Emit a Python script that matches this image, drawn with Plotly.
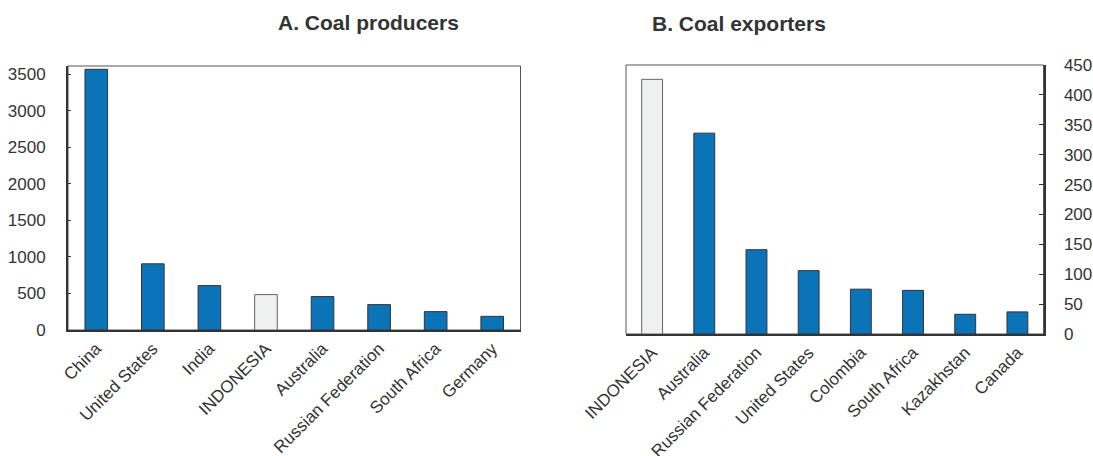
import plotly.graph_objects as go

producers = ["China", "United States", "India", "INDONESIA", "Australia",
             "Russian Federation", "South Africa", "Germany"]
production = [3565, 905, 607, 484, 457, 347, 251, 187]

exporters = ["INDONESIA", "Australia", "Russian Federation", "United States",
             "Colombia", "South Africa", "Kazakhstan", "Canada"]
exports = [426, 336, 141, 106, 75, 73, 33, 37]

BLUE = "#0b74b9"
HIGHLIGHT = "#eff0f0"
TXT = "#333333"
FONT = "Liberation Sans, Arial, sans-serif"

def colors(cats):
    return [HIGHLIGHT if c == "INDONESIA" else BLUE for c in cats]

def lines(cats):
    return ["#666666" if c == "INDONESIA" else "#333333" for c in cats]

fig = go.Figure()
fig.add_trace(go.Bar(x=producers, y=production, width=0.4,
                     marker=dict(color=colors(producers),
                                 line=dict(color=lines(producers), width=1)),
                     xaxis="x", yaxis="y", showlegend=False, hoverinfo="x+y"))
fig.add_trace(go.Bar(x=exporters, y=exports, width=0.4,
                     marker=dict(color=colors(exporters),
                                 line=dict(color=lines(exporters), width=1)),
                     xaxis="x2", yaxis="y2", showlegend=False, hoverinfo="x+y"))

W, H = 1093, 456
axfont = dict(family=FONT, size=17, color=TXT)

fig.update_layout(
    width=W, height=H, margin=dict(l=0, r=0, t=0, b=0, autoexpand=False),
    plot_bgcolor="white", paper_bgcolor="white",
    font=dict(family=FONT, size=17, color=TXT),
    bargap=0.6,
    xaxis=dict(domain=[68 / W, 520.5 / W], anchor="y", tickangle=-45,
               showline=True, linecolor=TXT, linewidth=2, ticks="",
               tickfont=axfont, showgrid=False, automargin=False),
    yaxis=dict(domain=[1 - 330 / H, 1 - 66 / H], anchor="x", range=[0, 3610],
               tickvals=[0, 500, 1000, 1500, 2000, 2500, 3000, 3500],
               showline=True, linecolor=TXT, linewidth=2,
               ticks="inside", ticklen=3, tickcolor=TXT,
               ticklabelstandoff=17, tickfont=axfont, showgrid=False,
               zeroline=False, automargin=False),
    xaxis2=dict(domain=[626 / W, 1043.5 / W], anchor="y2", tickangle=-45,
                showline=True, linecolor=TXT, linewidth=2, ticks="",
                tickfont=axfont, showgrid=False, automargin=False),
    yaxis2=dict(domain=[1 - 334 / H, 1 - 65 / H], anchor="x2", side="right",
                range=[0, 450], dtick=50,
                showline=True, linecolor=TXT, linewidth=2,
                ticks="inside", ticklen=5, tickcolor=TXT,
                ticklabelstandoff=15, tickfont=axfont, showgrid=False,
                zeroline=False, automargin=False),
    shapes=[
        dict(type="rect", xref="x domain", yref="y domain", x0=0, x1=1, y0=0, y1=1,
             line=dict(color="#555555", width=1), layer="below"),
        dict(type="rect", xref="x2 domain", yref="y2 domain", x0=0, x1=1, y0=0, y1=1,
             line=dict(color="#555555", width=1), layer="below"),
    ],
    annotations=[
        dict(text="<b>A. Coal producers</b>", xref="paper", yref="paper",
             x=276 / W, y=1 - 22 / H, yanchor="middle", showarrow=False,
             font=dict(family=FONT, size=21, color=TXT)),
        dict(text="<b>B. Coal exporters</b>", xref="paper", yref="paper",
             x=828 / W, y=1 - 24 / H, yanchor="middle", showarrow=False,
             font=dict(family=FONT, size=21, color=TXT)),
    ],
)

fig.write_html("out.html", config={"displayModeBar": False},
               post_script="document.body.style.margin='0';document.body.style.overflow='hidden';")
